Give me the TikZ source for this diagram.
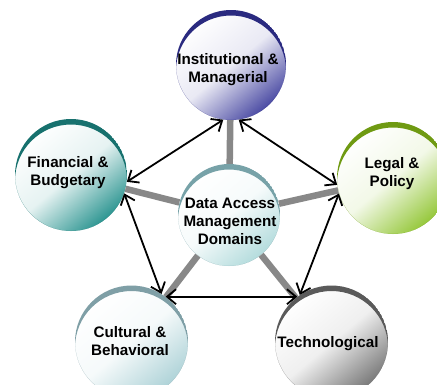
\documentclass[tikz,border=0pt]{standalone}
\usepackage{fontspec}
\setmainfont{Liberation Sans}
\usetikzlibrary{arrows.meta}
\definecolor{rimI}{HTML}{2A2A80}
\definecolor{bodyI}{HTML}{4C4CA4}
\definecolor{rimF}{HTML}{17716E}
\definecolor{bodyF}{HTML}{2E9692}
\definecolor{rimL}{HTML}{6F9A12}
\definecolor{bodyL}{HTML}{96C83C}
\definecolor{rimC}{HTML}{7F9FA6}
\definecolor{bodyC}{HTML}{AFD3D8}
\definecolor{rimT}{HTML}{5A5A5A}
\definecolor{bodyT}{HTML}{7A7A7A}
\definecolor{rimD}{HTML}{77A2A8}
\definecolor{bodyD}{HTML}{B4DCDD}
\definecolor{spokegray}{HTML}{888888}
\tikzset{
  dom/.style n args={3}{circle, minimum size=#1, inner sep=0pt,
    shading=axis, top color=white, bottom color=#3, middle color=#3!12!white,
    shading angle=40,
    path picture={\fill[#2, even odd rule]
      (path picture bounding box.center) circle (#1/2)
      ([yshift=-5.5pt]path picture bounding box.center) circle (#1/2);}},
  lbl/.style={align=center, inner sep=0pt, font=\fontsize{15.2}{18}\selectfont\bfseries},
  spoke/.style={draw=spokegray, line width=6.5pt},
  arr/.style={draw=black, line width=1.8pt,
    {Straight Barb[length=9pt,width=15pt,line width=1.8pt]}-{Straight Barb[length=9pt,width=15pt,line width=1.8pt]}}
}
\begin{document}
\begin{tikzpicture}[x=1pt,y=-1pt]
\useasboundingbox (0,0) rectangle (437,384);
\node[dom={110pt}{rimI}{bodyI}] (inst) at (231,65) {};
\node[dom={112pt}{rimF}{bodyF}] (fin) at (71,175) {};
\node[dom={112pt}{rimL}{bodyL}] (legal) at (393,178) {};
\node[dom={113pt}{rimC}{bodyC}] (cult) at (131.5,342) {};
\node[dom={113pt}{rimT}{bodyT}] (tech) at (331.5,342) {};
\node[dom={102pt}{rimD}{bodyD}] (ctr) at (229,215) {};
\node[lbl] (inst-t) at (228,69.5) {Institutional \&\\Managerial};
\node[lbl] (fin-t) at (68,173) {Financial \&\\Budgetary};
\node[lbl] (legal-t) at (392,173.5) {Legal \&\\Policy};
\node[lbl] (cult-t) at (130,341.5) {Cultural \&\\Behavioral};
\node[lbl] (tech-t) at (328,343.5) {Technological};
\node[lbl] (ctr-t) at (230,221) {Data Access\\Management\\Domains};
\draw[spoke] (ctr) -- (inst);
\draw[spoke] (ctr) -- (fin);
\draw[spoke] (ctr) -- (legal);
\draw[spoke] (ctr) -- (cult);
\draw[spoke] (ctr) -- (tech);
\draw[arr] (fin.-7) -- (inst.262);
\draw[arr] (inst.278) -- (legal.187);
\draw[arr] (fin.-19) -- (cult.58);
\draw[arr] (legal.196) -- (tech.124);
\draw[arr] (cult.53) -- (tech.127);
\end{tikzpicture}
\end{document}
